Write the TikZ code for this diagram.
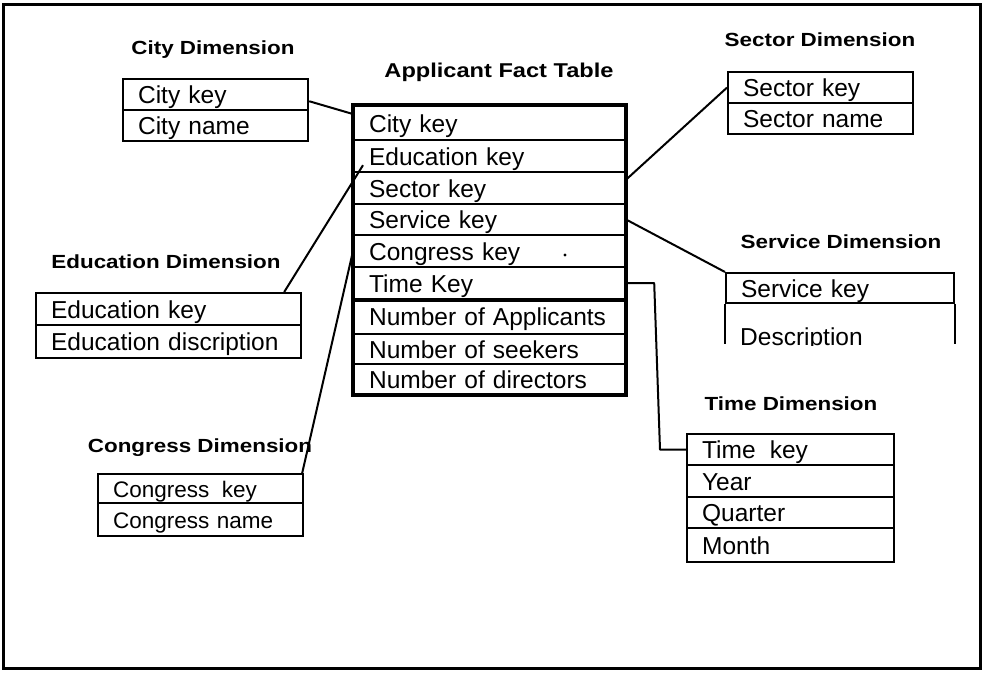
\documentclass[tikz,border=0pt]{standalone}
\usepackage{fontspec}
\usepackage{graphicx}
\setmainfont{Liberation Sans}
\usetikzlibrary{calc}
\newcommand\rowfnt{\fontsize{24.5}{28}\selectfont}
\newcommand\cgfnt{\fontsize{22.5}{26}\selectfont}
\newcommand\ttlfnt{\fontsize{19}{22}\selectfont\bfseries}
\newcommand\ttl[1]{\scalebox{1.18}[1]{#1}}
\tikzset{
  rowbox/.style={draw, line width=2.2pt, rectangle, anchor=north west,
    inner xsep=15pt, inner ysep=0pt, text height=18pt, text depth=0pt,
    align=left, font=\rowfnt},
  dimtitle/.style={anchor=base, font=\ttlfnt, inner sep=0pt},
  link/.style={line width=2pt, line join=round},
  frame/.style={line width=3pt},
}
\begin{document}
\begin{tikzpicture}[x=1pt, y=-1pt]
\useasboundingbox (0,0) rectangle (983,674);
\draw[frame] (3,5) rectangle (980,668);

% City dimension
\node[dimtitle] (cityT) at (213,55) {\ttl{City Dimension}};
\node[rowbox, minimum width=185, minimum height=31, text width=155] (city1) at (122,78) {City key};
\node[rowbox, minimum width=185, minimum height=31, text width=155] (city2) at (122,109) {City name};

% Fact table
\node[dimtitle, font=\fontsize{20}{23}\selectfont\bfseries] (factT) at (499,78) {\ttl{Applicant Fact Table}};
\node[rowbox, minimum width=271, minimum height=34, text width=241] (f1) at (353,105) {City key};
\node[rowbox, minimum width=271, minimum height=32, text width=241] (f2) at (353,139) {Education key};
\node[rowbox, minimum width=271, minimum height=32, text width=241] (f3) at (353,171) {Sector key};
\node[rowbox, minimum width=271, minimum height=31, text width=241] (f4) at (353,203) {Service key};
\node[rowbox, minimum width=271, minimum height=32, text width=241] (f5) at (353,234) {Congress key};
\node[rowbox, minimum width=271, minimum height=32, text width=241] (f6) at (353,266) {Time Key};
\node[rowbox, minimum width=271, minimum height=35, text width=241] (f7) at (353,298) {Number of Applicants};
\node[rowbox, minimum width=271, minimum height=30, text width=241] (f8) at (353,333) {Number of seekers};
\node[rowbox, minimum width=271, minimum height=30, text width=241] (f9) at (353,363) {Number of directors};
\draw[line width=4.5pt] (f1.north west) rectangle (f9.south east);
\draw[line width=4pt] (f6.south west) -- (f6.south east);
\fill (565,255) circle (1.6pt);

% Education dimension
\node[dimtitle] (eduT) at (166,268) {\ttl{Education Dimension}};
\node[rowbox, minimum width=265, minimum height=32, text width=235] (edu1) at (35,292) {Education key};
\node[rowbox, minimum width=265, minimum height=33, text width=235] (edu2) at (35,324) {Education discription};

% Congress dimension
\node[dimtitle] (congT) at (200,452) {\ttl{Congress Dimension}};
\node[rowbox, font=\cgfnt, minimum width=205, minimum height=29, text width=175] (cong1) at (97,473) {Congress\hspace{5pt} key};
\node[rowbox, font=\cgfnt, minimum width=205, minimum height=33, text width=175] (cong2) at (97,502) {Congress name};

% Sector dimension
\node[dimtitle] (secT) at (820,47) {\ttl{Sector Dimension}};
\node[rowbox, minimum width=185, minimum height=31, text width=155] (sec1) at (727,71) {Sector key};
\node[rowbox, minimum width=185, minimum height=31, text width=155] (sec2) at (727,102) {Sector name};

% Service dimension
\node[dimtitle] (servT) at (841,248) {\ttl{Service Dimension}};
\node[rowbox, minimum width=228, minimum height=30, text width=198] (serv1) at (725,272) {Service key};
\draw[line width=2.2pt] (serv1.south west) -- ++(0,40);
\draw[line width=2.2pt] (serv1.south east) -- ++(0,40);
\begin{scope}
\clip (700,300) rectangle (960,345);
\node[anchor=base west, font=\rowfnt, inner sep=0pt] (serv2) at ($(serv1.south west)+(15,41)$) {Description};
\end{scope}

% Time dimension
\node[dimtitle] (timeT) at (791,410) {\ttl{Time Dimension}};
\node[rowbox, minimum width=207, minimum height=31, text width=177] (time1) at (686,433) {Time\hspace{6pt} key};
\node[rowbox, minimum width=207, minimum height=32, text width=177] (time2) at (686,464) {Year};
\node[rowbox, minimum width=207, minimum height=31, text width=177] (time3) at (686,496) {Quarter};
\node[rowbox, minimum width=207, minimum height=34, text width=177] (time4) at (686,527) {Month};

% Connectors
\draw[link] ($(city1.east)!0.4!(city1.south east)$) -- ($(f1.west)!0.5!(f1.north west)$);
\draw[link] ($(edu1.north east)+(-18,0)$) -- ($(f2.south west)+(10,-8)$);
\draw[link] ($(cong1.north east)+(-2,0)$) -- (f5.west);
\draw[link] ($(f3.east)!0.5!(f3.north east)$) -- (sec1.west);
\draw[link] (f4.east) -- (serv1.north west);
\draw[link] (f6.east) -- ++(28,0) -- ($(time1.west)+(-26,0)$) -- (time1.west);
\end{tikzpicture}
\end{document}
